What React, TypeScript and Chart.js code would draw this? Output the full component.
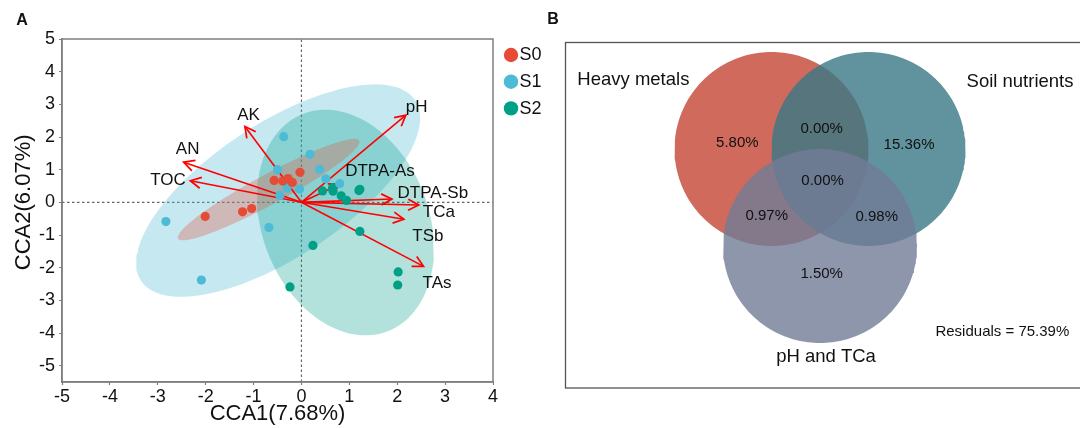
import React, { useEffect, useRef } from 'react';
import { Chart, registerables } from 'chart.js';
Chart.register(...registerables);

const FONT = "'Liberation Sans', Arial, Helvetica, sans-serif";

// ---------- Panel A data ----------
const groups = ['S0', 'S1', 'S2'];
const groupColors = ['#E64B35', '#4DBBD5', '#00A087'];
const ellipseFills = ['rgba(230,75,53,0.30)', 'rgba(77,187,213,0.32)', 'rgba(0,160,135,0.30)'];

const s0X = [-0.03, -0.57, -0.39, -0.28, -0.19, -2.01, -1.23, -1.04];
const s0Y = [0.92, 0.67, 0.65, 0.73, 0.61, -0.43, -0.29, -0.19];
const s1X = [-0.37, 0.18, 0.38, -0.50, 0.51, 0.80, -0.30, -0.04, -0.45, -2.83, -0.68, -2.09];
const s1Y = [2.01, 1.47, 1.01, 1.00, 0.72, 0.57, 0.44, 0.40, 0.21, -0.59, -0.77, -2.38];
const s2X = [0.44, 0.65, 0.66, 0.83, 0.94, 1.20, 1.22, 1.22, 0.24, -0.24, 2.02, 2.01];
const s2Y = [0.35, 0.45, 0.34, 0.20, 0.06, 0.36, 0.40, -0.89, -1.32, -2.59, -2.13, -2.53];
const groupX = [s0X, s1X, s2X];
const groupY = [s0Y, s1Y, s2Y];

// confidence ellipses: centre and two conjugate semi-diameters (data units)
const ellipseCX = [-0.685, -0.487, 0.92];
const ellipseCY = [0.39, 0.361, -0.618];
const ellipseUX = [1.893, 2.165, 1.80];
const ellipseUY = [1.50, 0, 0];
const ellipseVX = [0.148, -2.027, 0.418];
const ellipseVY = [-0.404, -3.251, -3.453];

const envVars = ['AK', 'AN', 'TOC', 'pH', 'DTPA-As', 'DTPA-Sb', 'TCa', 'TSb', 'TAs'];
const envX = [-1.18, -2.46, -2.32, 2.18, 0.80, 1.89, 2.45, 2.14, 2.55];
const envY = [2.32, 1.23, 0.66, 2.67, 0.55, 0.10, -0.08, -0.52, -1.96];

const xTicks = [-5, -4, -3, -2, -1, 0, 1, 2, 3, 4];
const yTicks = [-5, -4, -3, -2, -1, 0, 1, 2, 3, 4, 5];
const xRange = [-5, 4];
const yRange = [-5.5, 5];
const xTitle = 'CCA1(7.68%)';
const yTitle = 'CCA2(6.07%)';

// ---------- Panel B data ----------
const vennSets = ['Heavy metals', 'Soil nutrients', 'pH and TCa'];
const vennCX = [-0.5, 0.5, 0];
const vennCY = [0.5, 0.5, -0.5];
const vennR = [1, 1, 1];
const vennFills = ['rgba(195,69,51,0.80)', 'rgba(56,120,134,0.80)', 'rgba(114,124,151,0.80)'];
const vennRegionLabels = ['5.80%', '0.00%', '15.36%', '0.00%', '0.97%', '0.98%', '1.50%'];
const vennRegionX = [-0.852, 0.017, 0.918, 0.027, -0.549, 0.585, 0.017];
const vennRegionY = [0.559, 0.706, 0.541, 0.170, -0.191, -0.204, -0.792];
const vennSetLabelX = [-1.924, 2.062, 0.062];
const vennSetLabelY = [1.211, 1.188, -1.647];
const residualText = 'Residuals = 75.39%';
const residualX = 1.88;
const residualY = -1.386;

// label offsets (px) relative to arrow tips
const LABEL_OFFSETS: Record<string, { dx: number; dy: number; align: CanvasTextAlign }> = {
  AK: { dx: 3.6, dy: -11, align: 'center' },
  AN: { dx: 4, dy: -13, align: 'center' },
  TOC: { dx: -4.5, dy: 0, align: 'right' },
  pH: { dx: 0, dy: -8, align: 'left' },
  'DTPA-As': { dx: 5.4, dy: -12.6, align: 'left' },
  'DTPA-Sb': { dx: 5.6, dy: -5.7, align: 'left' },
  TCa: { dx: 4, dy: 7.8, align: 'left' },
  TSb: { dx: 8.4, dy: 16.7, align: 'left' },
  TAs: { dx: -1, dy: 17, align: 'left' },
};

function ellipsePts(i: number) {
  const pts: { x: number; y: number }[] = [];
  const N = 160;
  for (let k = 0; k <= N; k++) {
    const t = (k / N) * Math.PI * 2;
    pts.push({
      x: ellipseCX[i] + ellipseUX[i] * Math.cos(t) + ellipseVX[i] * Math.sin(t),
      y: ellipseCY[i] + ellipseUY[i] * Math.cos(t) + ellipseVY[i] * Math.sin(t),
    });
  }
  return pts;
}

function circlePts(i: number) {
  const pts: { x: number; y: number }[] = [];
  const N = 200;
  for (let k = 0; k <= N; k++) {
    const t = (k / N) * Math.PI * 2;
    pts.push({ x: vennCX[i] + vennR[i] * Math.cos(t), y: vennCY[i] + vennR[i] * Math.sin(t) });
  }
  return pts;
}

const AXIS_GREY = '#7f7f7f';
const A_WIDTH = 556;

function buildConfigA(): any {
  const datasets: any[] = [];
  // zero reference lines
  datasets.push({
    type: 'line', data: [{ x: xRange[0], y: 0 }, { x: xRange[1], y: 0 }],
    borderColor: '#666', borderWidth: 1.2, borderDash: [2.5, 2.5], pointRadius: 0, fill: false, order: 10,
  });
  datasets.push({
    type: 'line', data: [{ x: 0, y: yRange[0] }, { x: 0, y: yRange[1] }],
    borderColor: '#666', borderWidth: 1.2, borderDash: [2.5, 2.5], pointRadius: 0, fill: false, order: 10,
  });
  // ellipses: S1 bottom, S2, S0 top
  const ellOrder = [5, 7, 6];
  groups.forEach((g, i) => {
    datasets.push({
      type: 'line', label: g + ' ellipse', data: ellipsePts(i), fill: 'shape',
      backgroundColor: ellipseFills[i], borderColor: 'rgba(0,0,0,0)', borderWidth: 0,
      pointRadius: 0, tension: 0, order: ellOrder[i],
    });
  });
  // arrows (shafts)
  const arrowStart = datasets.length;
  envVars.forEach((v, i) => {
    datasets.push({
      type: 'line', label: v, data: [{ x: 0, y: 0 }, { x: envX[i], y: envY[i] }],
      borderColor: '#ff0000', borderWidth: 1.6, pointRadius: 0, fill: false, order: 2,
    });
  });
  // sample points
  groups.forEach((g, i) => {
    datasets.push({
      type: 'scatter', label: g,
      data: groupX[i].map((x, k) => ({ x, y: groupY[i][k] })),
      backgroundColor: groupColors[i], borderWidth: 0, pointRadius: 4.6, pointHoverRadius: 4.6, order: 1,
    });
  });

  const plugin = {
    id: 'panelA',
    afterDatasetDraw(chart: any, args: any) {
      const i = args.index - arrowStart;
      if (i < 0 || i >= envVars.length) return;
      const { ctx, scales } = chart;
      const xs = scales.x, ys = scales.y;
      const x0 = xs.getPixelForValue(0), y0 = ys.getPixelForValue(0);
      const x1 = xs.getPixelForValue(envX[i]), y1 = ys.getPixelForValue(envY[i]);
      const ang = Math.atan2(y1 - y0, x1 - x0);
      const L = 12, a = Math.PI / 6.5;
      ctx.save();
      ctx.strokeStyle = '#ff0000';
      ctx.lineWidth = 1.7;
      ctx.beginPath();
      ctx.moveTo(x1 - L * Math.cos(ang - a), y1 - L * Math.sin(ang - a));
      ctx.lineTo(x1, y1);
      ctx.lineTo(x1 - L * Math.cos(ang + a), y1 - L * Math.sin(ang + a));
      ctx.stroke();
      ctx.restore();
    },
    afterDatasetsDraw(chart: any) {
      const { ctx, scales } = chart;
      const xs = scales.x, ys = scales.y;
      ctx.save();
      ctx.fillStyle = '#111';
      ctx.font = `17px ${FONT}`;
      ctx.textBaseline = 'middle';
      envVars.forEach((name, i) => {
        const x1 = xs.getPixelForValue(envX[i]), y1 = ys.getPixelForValue(envY[i]);
        const off = LABEL_OFFSETS[name];
        ctx.textAlign = off.align;
        ctx.fillText(name, x1 + off.dx, y1 + off.dy);
      });
      ctx.restore();
    },
    afterDraw(chart: any) {
      const { ctx, chartArea } = chart;
      ctx.save();
      ctx.strokeStyle = AXIS_GREY;
      ctx.lineWidth = 1.5;
      ctx.strokeRect(chartArea.left, chartArea.top, chartArea.right - chartArea.left, chartArea.bottom - chartArea.top);
      // axis titles
      ctx.fillStyle = '#111';
      ctx.font = `22px ${FONT}`;
      ctx.textAlign = 'center';
      ctx.textBaseline = 'middle';
      ctx.fillText(xTitle, (chartArea.left + chartArea.right) / 2, 414);
      ctx.save();
      ctx.translate(23.5, chart.scales.y.getPixelForValue(0));
      ctx.rotate(-Math.PI / 2);
      ctx.fillText(yTitle, 0, 0);
      ctx.restore();
      // legend
      ctx.font = `18px ${FONT}`;
      ctx.textAlign = 'left';
      groups.forEach((g, i) => {
        const cy = 55 + i * 26.7;
        ctx.fillStyle = groupColors[i];
        ctx.beginPath();
        ctx.arc(511, cy, 7.2, 0, Math.PI * 2);
        ctx.fill();
        ctx.fillStyle = '#111';
        ctx.fillText(g, 519.5, cy + 0.5);
      });
      // panel letter
      ctx.font = `bold 16px ${FONT}`;
      ctx.textAlign = 'center';
      ctx.fillText('A', 22, 21);
      ctx.restore();
    },
  };

  return {
    type: 'scatter',
    data: { datasets },
    options: {
      animation: false,
      responsive: false,
      devicePixelRatio: 1,
      events: [],
      layout: { padding: { left: 0, right: A_WIDTH - 493, top: 39, bottom: 0 } },
      plugins: { legend: { display: false }, tooltip: { enabled: false } },
      scales: {
        x: {
          type: 'linear', min: xRange[0], max: xRange[1],
          afterBuildTicks: (s: any) => { s.ticks = xTicks.map((v) => ({ value: v })); },
          afterFit: (s: any) => { s.height = 46; },
          ticks: { font: { size: 18, family: FONT }, color: '#111', padding: 1, callback: (v: any) => String(v), maxRotation: 0, autoSkip: false },
          grid: { drawOnChartArea: false, drawTicks: true, tickLength: 3, tickColor: AXIS_GREY, tickWidth: 1.2 },
          border: { display: true, color: AXIS_GREY, width: 1.5 },
        },
        y: {
          type: 'linear', min: yRange[0], max: yRange[1],
          afterBuildTicks: (s: any) => { s.ticks = yTicks.map((v) => ({ value: v })); },
          afterFit: (s: any) => { s.width = 62; },
          ticks: { font: { size: 18, family: FONT }, color: '#111', padding: 4, callback: (v: any) => String(v), autoSkip: false },
          grid: { drawOnChartArea: false, drawTicks: true, tickLength: 3, tickColor: AXIS_GREY, tickWidth: 1.2 },
          border: { display: true, color: AXIS_GREY, width: 1.5 },
        },
      },
    },
    plugins: [plugin],
  };
}

function buildConfigB(): any {
  const order = [3, 2, 1];
  const datasets = vennSets.map((s, i) => ({
    type: 'line', label: s, data: circlePts(i), fill: 'shape',
    backgroundColor: vennFills[i], borderColor: 'rgba(0,0,0,0)', borderWidth: 0,
    pointRadius: 0, tension: 0, order: order[i],
  }));
  const unit = 97;
  const cxPx = 280; // canvas px of venn x = 0
  const cyPx = 197.5; // canvas px of venn y = 0
  const plugin = {
    id: 'panelB',
    afterDraw(chart: any) {
      const { ctx, scales } = chart;
      const xs = scales.x, ys = scales.y;
      ctx.save();
      ctx.strokeStyle = '#555';
      ctx.lineWidth = 1.3;
      ctx.strokeRect(25.5, 42.5, 600, 345.5);
      ctx.fillStyle = '#111';
      ctx.textAlign = 'center';
      ctx.textBaseline = 'middle';
      ctx.font = `15px ${FONT}`;
      vennRegionLabels.forEach((t, i) => {
        ctx.fillText(t, xs.getPixelForValue(vennRegionX[i]), ys.getPixelForValue(vennRegionY[i]));
      });
      ctx.font = `18.5px ${FONT}`;
      vennSets.forEach((s, i) => {
        ctx.fillText(s, xs.getPixelForValue(vennSetLabelX[i]), ys.getPixelForValue(vennSetLabelY[i]));
      });
      ctx.font = `15px ${FONT}`;
      ctx.fillText(residualText, xs.getPixelForValue(residualX), ys.getPixelForValue(residualY));
      ctx.font = `bold 16px ${FONT}`;
      ctx.fillText('B', 13, 20);
      ctx.restore();
    },
  };
  return {
    type: 'scatter',
    data: { datasets },
    options: {
      animation: false,
      responsive: false,
      devicePixelRatio: 1,
      events: [],
      layout: { padding: 0 },
      plugins: { legend: { display: false }, tooltip: { enabled: false } },
      scales: {
        x: { type: 'linear', display: false, min: -cxPx / unit, max: (540 - cxPx) / unit },
        y: { type: 'linear', display: false, min: -(428 - cyPx) / unit, max: cyPx / unit },
      },
    },
    plugins: [plugin],
  };
}

export default function App() {
  const refA = useRef<HTMLCanvasElement>(null);
  const refB = useRef<HTMLCanvasElement>(null);
  useEffect(() => {
    Chart.defaults.font.family = FONT;
    const a = new Chart(refA.current as HTMLCanvasElement, buildConfigA());
    const b = new Chart(refB.current as HTMLCanvasElement, buildConfigB());
    return () => {
      a.destroy();
      b.destroy();
    };
  }, []);
  return (
    <div style={{ position: 'absolute', left: 0, top: 0, width: 1080, height: 428, background: '#fff', overflow: 'hidden' }}>
      <canvas ref={refA} width={A_WIDTH} height={428} style={{ position: 'absolute', left: 0, top: 0, width: A_WIDTH, height: 428 }} />
      <canvas ref={refB} width={540} height={428} style={{ position: 'absolute', left: 540, top: 0, width: 540, height: 428 }} />
    </div>
  );
}
